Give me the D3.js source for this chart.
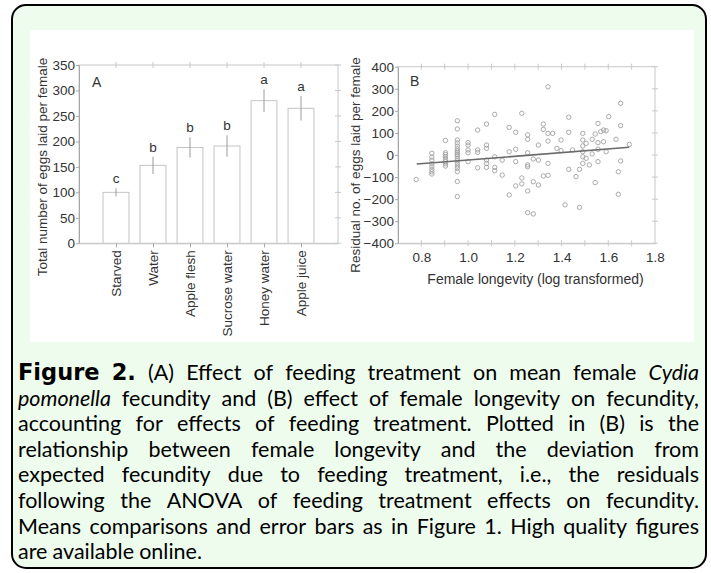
<!DOCTYPE html>
<html>
<head>
<meta charset="utf-8">
<script src="https://cdn.jsdelivr.net/npm/d3@7"></script>
<style>
  body { margin: 0; background: #fff; }
  svg { display: block; }
</style>
</head>
<body>
<svg id="fig" width="711" height="573"></svg>
<script>
// PANEL A DATA (mean eggs per female, +/- SE, means separation letters)
const treatments = ["Starved", "Water", "Apple flesh", "Sucrose water", "Honey water", "Apple juice"];
const meanEggs = [100, 153, 188, 191, 280, 265];
const seEggs = [8, 17, 20, 21, 22, 24];
const groupLetters = ["c", "b", "b", "b", "a", "a"];
const eggTicks = [0, 50, 100, 150, 200, 250, 300, 350];

// PANEL B DATA (log10 longevity vs residual fecundity)
const longevity = [
  0.778,
  0.845, 0.845, 0.845, 0.845, 0.845, 0.845, 0.845, 0.845,
  0.903, 0.903, 0.903, 0.903, 0.903, 0.903, 0.903, 0.903,
  0.954, 0.954, 0.954, 0.954, 0.954, 0.954, 0.954, 0.954, 0.954,
  0.954, 0.954, 0.954, 0.954, 0.954, 0.954, 0.954, 0.954, 0.954,
  1.000, 1.000, 1.000, 1.000, 1.000,
  1.041, 1.041, 1.041, 1.041,
  1.079, 1.079, 1.079, 1.079, 1.079, 1.079,
  1.114, 1.114, 1.114, 1.114,
  1.146, 1.146,
  1.176, 1.176, 1.176,
  1.204, 1.204, 1.204, 1.204,
  1.230, 1.230, 1.230,
  1.255, 1.255, 1.255, 1.255, 1.255, 1.255, 1.255,
  1.279, 1.279, 1.279,
  1.301, 1.301, 1.301,
  1.322, 1.322, 1.322,
  1.342, 1.342, 1.342, 1.342, 1.342,
  1.362, 1.380, 1.398, 1.398, 1.415,
  1.431, 1.431, 1.431,
  1.447, 1.462, 1.477, 1.477,
  1.491, 1.491, 1.491, 1.491, 1.491, 1.491,
  1.505, 1.505, 1.519, 1.531, 1.531, 1.544, 1.544,
  1.556, 1.556, 1.556, 1.556,
  1.568, 1.580, 1.580, 1.591, 1.591, 1.602,
  1.633, 1.643, 1.643,
  1.653, 1.653, 1.653, 1.690
];
const residual = [
  -111,
  8, -10, -23, -40, -53, -65, -76, -86,
  66, 10, 2, -8, -20, -30, -40, -50,
  155, 118, 68, 55, 40, 28, 18, 10, 2,
  -5, -15, -26, -38, -50, -60, -75, -120, -188,
  56, 45, 23, 10, -30,
  113, 23, 12, -58,
  140, 45, 30, -23, -38, -56,
  184, -8, -56, -71,
  -23, -91,
  125, 15, -181,
  103, 26, -30, -140,
  189, -104, -131,
  91, 71, 10, -45, -53, -163, -261,
  -18, -121, -267,
  45, -23, -136,
  140, 116, -95,
  63, 309, 98, -38, -92,
  98, 30, 68, 20, -226,
  171, 103, -65,
  23, -98, -65, -237,
  98, 68, 41, 15, -8, -38,
  53, -15, -45, 71, 5, 95, -125,
  143, 56, 26, -30,
  106, 113, 60, 110, 15, 174,
  71, -76, -178,
  234, 133, -27, 48
];
const fitLongevity = [0.78, 1.69];
const fitResidual = [-41, 35];
const residualTicks = [-400, -300, -200, -100, 0, 100, 200, 300, 400];
const longevityTicks = [0.8, 1.0, 1.2, 1.4, 1.6, 1.8];
const longevityMinor = [0.8, 0.9, 1.0, 1.1, 1.2, 1.3, 1.4, 1.5, 1.6, 1.7];

// CAPTION TEXT (one entry per printed line; b = bold, i = italic, n = normal)
const captionLines = [
  [["Figure 2.", "b"], [" (A) Effect of feeding treatment on mean female ", "n"], ["Cydia", "i"]],
  [["pomonella", "i"], [" fecundity and (B) effect of female longevity on fecundity,", "n"]],
  [["accounting for effects of feeding treatment. Plotted in (B) is the", "n"]],
  [["relationship between female longevity and the deviation from", "n"]],
  [["expected fecundity due to feeding treatment, i.e., the residuals", "n"]],
  [["following the ANOVA of feeding treatment effects on fecundity.", "n"]],
  [["Means comparisons and error bars as in Figure 1. High quality figures", "n"]],
  [["are available online.", "n"]]
];

const svg = d3.select("#fig");
const chartFont = "'Liberation Sans', Arial, sans-serif";
const frameColor = "#c8c8c8";
const axisColor = "#a8a8a8";

makeBox();
makeBars();
makeScatter();
makeCaption();

// OUTER BOX
function makeBox() {
  svg.append("rect")
    .attr("x", 12).attr("y", 5)
    .attr("width", 694).attr("height", 563)
    .attr("rx", 14)
    .attr("fill", "#eefcee")
    .attr("stroke", "#000")
    .attr("stroke-width", 2);
  svg.append("rect")
    .attr("x", 30).attr("y", 30)
    .attr("width", 664).attr("height", 312)
    .attr("fill", "#fff");
}

function styleAxis(g) {
  g.attr("font-family", chartFont).attr("font-size", 13.5);
  g.select(".domain").attr("stroke", axisColor);
  g.selectAll(".tick line").attr("stroke", axisColor);
  g.selectAll(".tick text").attr("fill", "#333");
}

// small tick marks that cross the frame (top / right / bottom)
function crossTicks(g, values, scale, orient, at) {
  g.append("g")
    .selectAll("line")
    .data(values)
    .enter()
    .append("line")
    .attr("x1", d => orient === "v" ? scale(d) : at - 3)
    .attr("x2", d => orient === "v" ? scale(d) : at + 3)
    .attr("y1", d => orient === "v" ? at - 3 : scale(d))
    .attr("y2", d => orient === "v" ? at + 3 : scale(d))
    .attr("stroke", frameColor);
}

function addFrame(g, left, top, right, bottom) {
  g.append("rect")
    .attr("x", left).attr("y", top)
    .attr("width", right - left).attr("height", bottom - top)
    .attr("fill", "none")
    .attr("stroke", frameColor);
}

// PANEL A - BAR CHART
function makeBars() {
  const left = 79, right = 338, top = 65, bottom = 243.3;
  const g = svg.append("g").attr("class", "panel-a");

  const x = d3.scalePoint().domain(treatments).range([left, right]).padding(1);
  const y = d3.scaleLinear().domain([0, 350]).range([bottom, top]);
  const barW = x.step() * 0.7;

  addFrame(g, left, top, right, bottom);
  crossTicks(g, treatments, x, "v", top);
  crossTicks(g, eggTicks, y, "h", right);

  g.selectAll("rect.bar")
    .data(treatments)
    .enter()
    .append("rect")
    .attr("class", "bar")
    .attr("x", d => x(d) - barW / 2)
    .attr("width", barW)
    .attr("y", (d, i) => y(meanEggs[i]))
    .attr("height", (d, i) => bottom - y(meanEggs[i]))
    .attr("fill", "#fff")
    .attr("stroke", "#c4c4c4");

  g.selectAll("line.err")
    .data(treatments)
    .enter()
    .append("line")
    .attr("class", "err")
    .attr("x1", d => x(d))
    .attr("x2", d => x(d))
    .attr("y1", (d, i) => y(meanEggs[i] - seEggs[i]))
    .attr("y2", (d, i) => y(meanEggs[i] + seEggs[i]))
    .attr("stroke", "#9a9a9a");

  g.selectAll("text.letter")
    .data(treatments)
    .enter()
    .append("text")
    .attr("class", "letter")
    .attr("x", d => x(d))
    .attr("y", (d, i) => y(meanEggs[i] + seEggs[i]) - 5)
    .attr("text-anchor", "middle")
    .attr("font-family", chartFont)
    .attr("font-size", 13.5)
    .attr("fill", "#333")
    .text((d, i) => groupLetters[i]);

  g.append("g")
    .attr("transform", "translate(" + left + ",0)")
    .call(d3.axisLeft(y).tickValues(eggTicks).tickSize(3).tickPadding(1).tickSizeOuter(0))
    .call(styleAxis);

  const xAxis = g.append("g")
    .attr("transform", "translate(0," + bottom + ")")
    .call(d3.axisBottom(x).tickSize(4).tickSizeOuter(0))
    .call(styleAxis);
  xAxis.select(".domain").attr("stroke", frameColor);
  xAxis.selectAll(".tick text")
    .attr("transform", "rotate(-90)")
    .attr("text-anchor", "end")
    .attr("x", -7)
    .attr("y", 0)
    .attr("dy", "0.35em");

  g.append("text")
    .attr("x", 92).attr("y", 87)
    .attr("font-family", chartFont)
    .attr("font-size", 14)
    .attr("fill", "#333")
    .text("A");

  g.append("text")
    .attr("transform", "translate(47," + 167 + ") rotate(-90)")
    .attr("text-anchor", "middle")
    .attr("font-family", chartFont)
    .attr("font-size", 13.5)
    .attr("fill", "#333")
    .text("Total number of eggs laid per female");
}

// PANEL B - RESIDUAL SCATTER
function makeScatter() {
  const left = 398, right = 655, top = 66.7, bottom = 243.3;
  const g = svg.append("g").attr("class", "panel-b");

  const x = d3.scaleLinear().domain([0.7, 1.8]).range([left, right]);
  const y = d3.scaleLinear().domain([-400, 400]).range([bottom, top]);

  addFrame(g, left, top, right, bottom);
  crossTicks(g, longevityMinor, x, "v", top);
  crossTicks(g, longevityMinor, x, "v", bottom);
  crossTicks(g, residualTicks, y, "h", right);

  g.append("g")
    .attr("transform", "translate(" + left + ",0)")
    .call(d3.axisLeft(y).tickValues(residualTicks).tickSize(3).tickPadding(1).tickSizeOuter(0))
    .call(styleAxis);

  const xAxis = g.append("g")
    .attr("transform", "translate(0," + bottom + ")")
    .call(d3.axisBottom(x).tickValues(longevityTicks).tickFormat(d3.format(".1f")).tickSize(0).tickPadding(9))
    .call(styleAxis);
  xAxis.select(".domain").attr("stroke", frameColor);

  g.selectAll("circle")
    .data(longevity)
    .enter()
    .append("circle")
    .attr("cx", d => x(d))
    .attr("cy", (d, i) => y(residual[i]))
    .attr("r", 2.2)
    .attr("fill", "none")
    .attr("stroke", "#a0a0a0")
    .attr("stroke-width", 0.9);

  const line = d3.line()
    .x(d => x(d[0]))
    .y(d => y(d[1]));
  g.append("path")
    .attr("d", line(d3.zip(fitLongevity, fitResidual)))
    .attr("stroke", "#6a6a6a")
    .attr("stroke-width", 1.6)
    .attr("fill", "none");

  g.append("text")
    .attr("x", 410).attr("y", 86)
    .attr("font-family", chartFont)
    .attr("font-size", 14)
    .attr("fill", "#333")
    .text("B");

  g.append("text")
    .attr("transform", "translate(360," + 165 + ") rotate(-90)")
    .attr("text-anchor", "middle")
    .attr("font-family", chartFont)
    .attr("font-size", 13.5)
    .attr("fill", "#333")
    .text("Residual no. of eggs laid per female");

  g.append("text")
    .attr("x", (left + right) / 2 + 9).attr("y", 284)
    .attr("text-anchor", "middle")
    .attr("font-family", chartFont)
    .attr("font-size", 14)
    .attr("fill", "#333")
    .text("Female longevity (log transformed)");
}

// CAPTION - justified line by line
function makeCaption() {
  const x0 = 18, x1 = 699, firstBase = 380, lineGap = 25.6;
  const g = svg.append("g").attr("class", "caption");

  function setStyle(t, s, size) {
    if (s === "b") {
      t.attr("font-family", "'DejaVu Sans', Verdana, sans-serif").attr("font-weight", "bold").attr("font-size", size + 1);
    } else {
      t.attr("font-family", "Lato, 'Open Sans', sans-serif").attr("font-size", size)
        .attr("font-style", s === "i" ? "italic" : "normal");
    }
  }

  // words of every line
  const lineWords = captionLines.map(segs => {
    const words = [];
    segs.forEach(([txt, s]) => {
      txt.split(" ").filter(w => w.length).forEach(w => words.push({ w: w, s: s }));
    });
    return words;
  });

  // pick the largest size (up to 21.5) where every justified line keeps a real space
  let fontSize = 21.5;
  const probe = g.append("text");
  function naturalWidth(words, size) {
    return d3.sum(words, d => {
      probe.text(d.w);
      setStyle(probe, d.s, size);
      return probe.node().getComputedTextLength();
    }) + (words.length - 1) * size * 0.24;
  }
  while (fontSize > 16 && d3.max(lineWords.slice(0, -1), w => naturalWidth(w, fontSize)) > x1 - x0) {
    fontSize -= 0.25;
  }
  probe.remove();

  lineWords.forEach((words, li) => {
    const baseY = firstBase + li * lineGap;
    const nodes = words.map(d => {
      const t = g.append("text").attr("y", baseY).attr("fill", "#000").text(d.w);
      setStyle(t, d.s, fontSize);
      return t;
    });
    const widths = nodes.map(t => t.node().getComputedTextLength());
    const total = d3.sum(widths);
    const isLast = li === lineWords.length - 1;
    const gap = isLast ? fontSize * 0.24 : (x1 - x0 - total) / (words.length - 1);
    let cx = x0;
    nodes.forEach((t, i) => {
      t.attr("x", cx);
      cx += widths[i] + gap;
    });
  });
}
</script>
</body>
</html>
